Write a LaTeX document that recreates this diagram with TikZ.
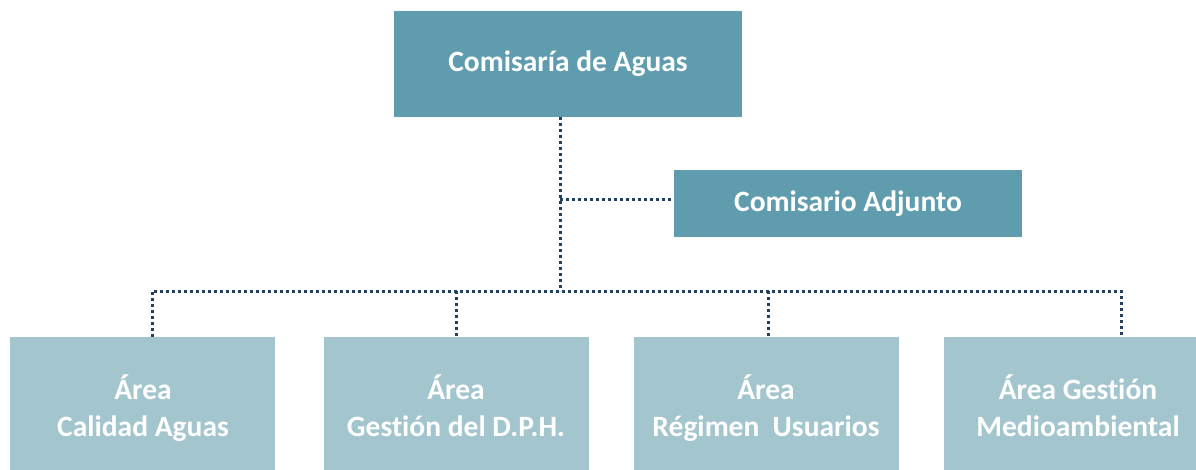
\documentclass[tikz,border=0pt]{standalone}
\usepackage{fontspec}
\setmainfont{Carlito}[Ligatures={NoCommon}]
\definecolor{topc}{HTML}{5F9DAE}
\definecolor{botc}{HTML}{A3C5CE}
\definecolor{linec}{HTML}{23405F}
\newcommand{\ph}{\vphantom{Ág}}
\begin{document}
\begin{tikzpicture}[x=1pt,y=-1pt,
  topbox/.style={fill=topc,draw=none,text=white,font=\bfseries\fontsize{29.5}{35}\selectfont,inner sep=0pt},
  botbox/.style={fill=botc,draw=none,inner sep=0pt,minimum height=133pt,minimum width=265pt},
  bottxt/.style={text=white,font=\bfseries\fontsize{29.5}{37}\selectfont,align=center,inner sep=0pt},
  link/.style={draw=linec,line width=3pt,dash pattern=on 3pt off 3pt}]
\useasboundingbox (0,0) rectangle (1196,470);
\node[topbox,minimum width=348pt,minimum height=106pt] (top) at (568,64) {Comisaría de Aguas};
\node[topbox,minimum width=348pt,minimum height=67pt] (adj) at (848,203.5) {Comisario Adjunto};
\node[botbox] (a1) at (142.5,403.5) {};
\node[botbox] (a2) at (456.5,403.5) {};
\node[botbox] (a3) at (766.5,403.5) {};
\node[botbox] (a4) at (1076.5,403.5) {};
\node[bottxt] (t1) at (143,408) {\ph Área\\Calidad Aguas\ph};
\node[bottxt] (t2) at (456,408) {\ph Área\\Gestión del D.P.H.\ph};
\node[bottxt] (t3) at (766,408) {\ph Área\\Régimen\ \ Usuarios\ph};
\node[bottxt] (t4) at (1078,408) {\ph Área Gestión\\Medioambiental\ph};
\coordinate (v0) at (560,117);
\coordinate (vb) at (560,291);
\coordinate (vm) at (560,200);
\draw[link] (v0) -- (vb);
\draw[link] (vm) -- (adj.west |- vm);
\draw[link] (a1.north -| 152,0) -- (152,291) -- (1121,291) -- (a4.north -| 1121,0);
\draw[link] (456,291) -- (a2.north -| 456,0);
\draw[link] (768,291) -- (a3.north -| 768,0);
\end{tikzpicture}
\end{document}
